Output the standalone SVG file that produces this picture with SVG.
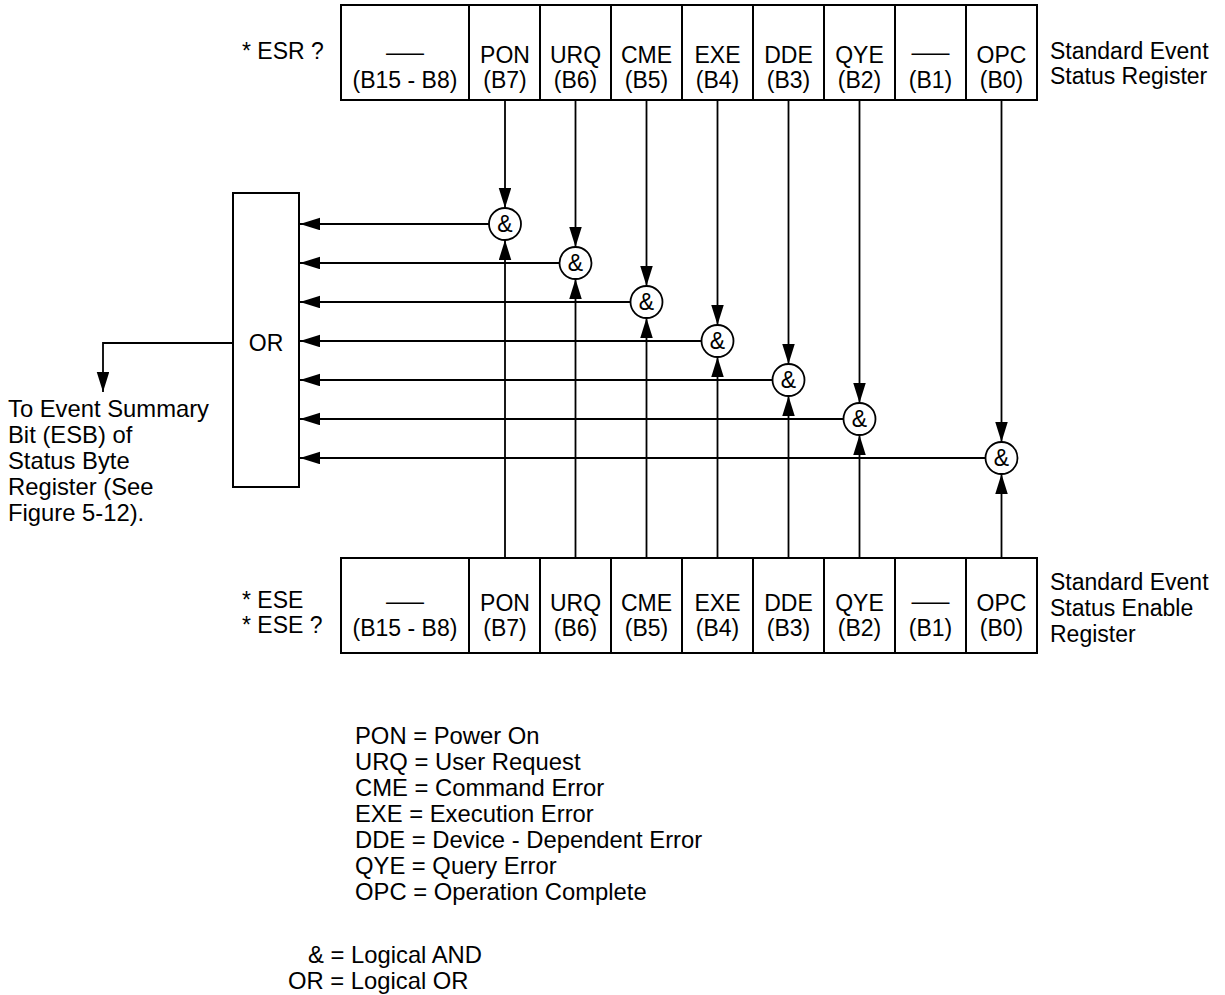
<svg xmlns="http://www.w3.org/2000/svg" width="1225" height="995" viewBox="0 0 1225 995">
<style>
.t{font-family:"Liberation Sans",Arial,Helvetica,sans-serif;font-size:23px;fill:#000}
.n{font-size:23.8px}
.c{text-anchor:middle}
.box{fill:#fff;stroke:#000;stroke-width:2}
.ln{fill:none;stroke:#000;stroke-width:1.8}
.gate{fill:#fff;stroke:#000;stroke-width:1.8}
.amp{font-family:"Liberation Sans",Arial,Helvetica,sans-serif;font-size:23px;text-anchor:middle;fill:#000}
</style>
<defs>
<marker id="ah" markerUnits="userSpaceOnUse" markerWidth="21" markerHeight="13" refX="20" refY="6.25" orient="auto">
<path d="M0,0 L20,6.25 L0,12.5 z" fill="#000"/>
</marker>
</defs>
<rect width="1225" height="995" fill="#fff"/>

<g id="esr-register">
<text class="t" x="242" y="59">* ESR ?</text>
<rect class="box" x="341" y="5" width="696" height="95"/>
<path class="ln" style="stroke-width:2" d="M469,5V100M540,5V100M611,5V100M682,5V100M753,5V100M824,5V100M895,5V100M966,5V100"/>
<text class="t c" x="405" y="60" textLength="38" lengthAdjust="spacingAndGlyphs">—</text>
<text class="t c" x="405" y="88">(B15 - B8)</text>
<text class="t c" x="505" y="63">PON</text><text class="t c" x="505" y="88">(B7)</text>
<text class="t c" x="575.5" y="63">URQ</text><text class="t c" x="575.5" y="88">(B6)</text>
<text class="t c" x="646.5" y="63">CME</text><text class="t c" x="646.5" y="88">(B5)</text>
<text class="t c" x="717.5" y="63">EXE</text><text class="t c" x="717.5" y="88">(B4)</text>
<text class="t c" x="788.5" y="63">DDE</text><text class="t c" x="788.5" y="88">(B3)</text>
<text class="t c" x="859.5" y="63">QYE</text><text class="t c" x="859.5" y="88">(B2)</text>
<text class="t c" x="930.5" y="60" textLength="38" lengthAdjust="spacingAndGlyphs">—</text>
<text class="t c" x="930.5" y="88">(B1)</text>
<text class="t c" x="1001.5" y="63">OPC</text><text class="t c" x="1001.5" y="88">(B0)</text>
<text class="t" x="1050" y="59">Standard Event</text>
<text class="t" x="1050" y="84">Status Register</text>
</g>

<g id="ese-register">
<text class="t" x="242" y="608">* ESE</text>
<text class="t" x="242" y="633">* ESE ?</text>
<rect class="box" x="341" y="558" width="696" height="95"/>
<path class="ln" style="stroke-width:2" d="M469,558V653M540,558V653M611,558V653M682,558V653M753,558V653M824,558V653M895,558V653M966,558V653"/>
<text class="t c" x="405" y="609" textLength="38" lengthAdjust="spacingAndGlyphs">—</text>
<text class="t c" x="405" y="636">(B15 - B8)</text>
<text class="t c" x="505" y="611">PON</text><text class="t c" x="505" y="636">(B7)</text>
<text class="t c" x="575.5" y="611">URQ</text><text class="t c" x="575.5" y="636">(B6)</text>
<text class="t c" x="646.5" y="611">CME</text><text class="t c" x="646.5" y="636">(B5)</text>
<text class="t c" x="717.5" y="611">EXE</text><text class="t c" x="717.5" y="636">(B4)</text>
<text class="t c" x="788.5" y="611">DDE</text><text class="t c" x="788.5" y="636">(B3)</text>
<text class="t c" x="859.5" y="611">QYE</text><text class="t c" x="859.5" y="636">(B2)</text>
<text class="t c" x="930.5" y="609" textLength="38" lengthAdjust="spacingAndGlyphs">—</text>
<text class="t c" x="930.5" y="636">(B1)</text>
<text class="t c" x="1001.5" y="611">OPC</text><text class="t c" x="1001.5" y="636">(B0)</text>
<text class="t" x="1050" y="590">Standard Event</text>
<text class="t" x="1050" y="616">Status Enable</text>
<text class="t" x="1050" y="642">Register</text>
</g>

<g id="or-gate">
<rect class="box" x="233" y="193" width="66" height="294"/>
<text class="t c" x="266" y="351">OR</text>
</g>

<g id="connectors">
<path class="ln" marker-end="url(#ah)" d="M505,100V208"/>
<path class="ln" marker-end="url(#ah)" d="M575.5,100V247"/>
<path class="ln" marker-end="url(#ah)" d="M646.5,100V286"/>
<path class="ln" marker-end="url(#ah)" d="M717.5,100V325"/>
<path class="ln" marker-end="url(#ah)" d="M788.5,100V364"/>
<path class="ln" marker-end="url(#ah)" d="M859.5,100V403"/>
<path class="ln" marker-end="url(#ah)" d="M1001.5,100V442"/>
<path class="ln" marker-end="url(#ah)" d="M505,558V240"/>
<path class="ln" marker-end="url(#ah)" d="M575.5,558V279"/>
<path class="ln" marker-end="url(#ah)" d="M646.5,558V318"/>
<path class="ln" marker-end="url(#ah)" d="M717.5,558V357"/>
<path class="ln" marker-end="url(#ah)" d="M788.5,558V396"/>
<path class="ln" marker-end="url(#ah)" d="M859.5,558V435"/>
<path class="ln" marker-end="url(#ah)" d="M1001.5,558V474"/>
<path class="ln" marker-end="url(#ah)" d="M489,224H300"/>
<path class="ln" marker-end="url(#ah)" d="M559.5,263H300"/>
<path class="ln" marker-end="url(#ah)" d="M630.5,302H300"/>
<path class="ln" marker-end="url(#ah)" d="M701.5,341H300"/>
<path class="ln" marker-end="url(#ah)" d="M772.5,380H300"/>
<path class="ln" marker-end="url(#ah)" d="M843.5,419H300"/>
<path class="ln" marker-end="url(#ah)" d="M985.5,458H300"/>
<path class="ln" marker-end="url(#ah)" d="M233,343H103V392"/>
</g>

<g id="gate-pon"><circle class="gate" cx="505" cy="224" r="16"/><text class="amp" x="505" y="232">&amp;</text></g>
<g id="gate-urq"><circle class="gate" cx="575.5" cy="263" r="16"/><text class="amp" x="575.5" y="271">&amp;</text></g>
<g id="gate-cme"><circle class="gate" cx="646.5" cy="302" r="16"/><text class="amp" x="646.5" y="310">&amp;</text></g>
<g id="gate-exe"><circle class="gate" cx="717.5" cy="341" r="16"/><text class="amp" x="717.5" y="349">&amp;</text></g>
<g id="gate-dde"><circle class="gate" cx="788.5" cy="380" r="16"/><text class="amp" x="788.5" y="388">&amp;</text></g>
<g id="gate-qye"><circle class="gate" cx="859.5" cy="419" r="16"/><text class="amp" x="859.5" y="427">&amp;</text></g>
<g id="gate-opc"><circle class="gate" cx="1001.5" cy="458" r="16"/><text class="amp" x="1001.5" y="466">&amp;</text></g>

<g id="esb-note">
<text class="t n" x="8" y="417">To Event Summary</text>
<text class="t n" x="8" y="443">Bit (ESB) of</text>
<text class="t n" x="8" y="469">Status Byte</text>
<text class="t n" x="8" y="495">Register (See</text>
<text class="t n" x="8" y="521">Figure 5-12).</text>
</g>

<g id="legend">
<text class="t n" x="355" y="744">PON = Power On</text>
<text class="t n" x="355" y="770">URQ = User Request</text>
<text class="t n" x="355" y="796">CME = Command Error</text>
<text class="t n" x="355" y="822">EXE = Execution Error</text>
<text class="t n" x="355" y="848">DDE = Device - Dependent Error</text>
<text class="t n" x="355" y="874">QYE = Query Error</text>
<text class="t n" x="355" y="900">OPC = Operation Complete</text>
<text class="t n" x="308" y="963">&amp; = Logical AND</text>
<text class="t n" x="288" y="989">OR = Logical OR</text>
</g>
</svg>
